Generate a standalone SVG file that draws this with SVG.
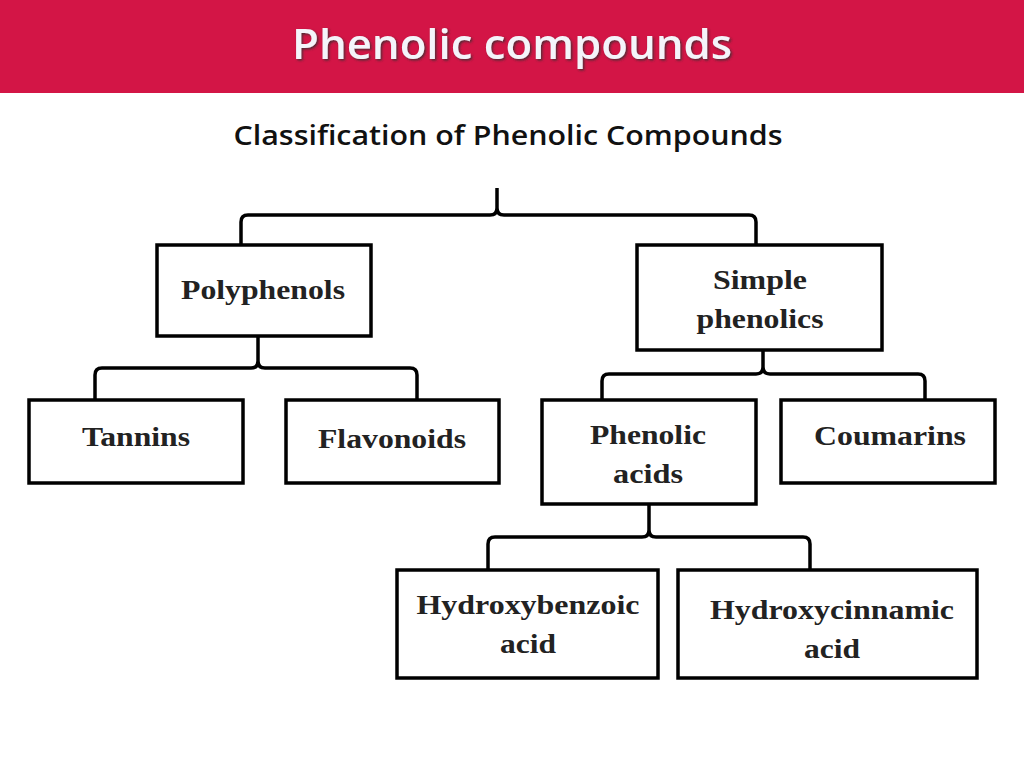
<svg xmlns="http://www.w3.org/2000/svg" width="1024" height="768" viewBox="0 0 1024 768">
<defs>
<style>
.box{fill:#fff;stroke:#000;stroke-width:3.5}
.t{font-family:"Liberation Serif",serif;font-weight:bold;font-size:28px;fill:#222;text-anchor:middle}
.c{fill:none;stroke:#000;stroke-width:3.5;stroke-linejoin:round}
</style>
<filter id="sh"><feDropShadow dx="1.5" dy="1.5" stdDeviation="1" flood-color="#333" flood-opacity="0.8"/></filter>
</defs>
<rect width="1024" height="768" fill="#fff"/>
<rect x="0" y="0" width="1024" height="93" fill="#d31546"/>
<text x="512" y="59" font-family="'Open Sans',sans-serif" font-size="42" font-weight="600" fill="#f4f4fa" text-anchor="middle" filter="url(#sh)" textLength="440" lengthAdjust="spacingAndGlyphs">Phenolic compounds</text>
<text x="508" y="145" font-family="'Open Sans',sans-serif" font-size="27" font-weight="600" fill="#111" text-anchor="middle" textLength="549" lengthAdjust="spacingAndGlyphs">Classification of Phenolic Compounds</text>
<g id="connectors">
<path class="c" d="M497,188 V208 Q497,215 490,215 H248 Q241,215 241,222 V245 M497,208 Q497,215 504,215 H749 Q756,215 756,222 V245"/>
<path class="c" d="M258,336 V361 Q258,368 251,368 H102 Q95,368 95,375 V400 M258,361 Q258,368 265,368 H410 Q417,368 417,375 V400"/>
<path class="c" d="M763,350 V367 Q763,374 756,374 H609 Q602,374 602,381 V400 M763,367 Q763,374 770,374 H918 Q925,374 925,381 V400"/>
<path class="c" d="M649,504 V530 Q649,537 642,537 H495 Q488,537 488,544 V570 M649,530 Q649,537 656,537 H803 Q810,537 810,544 V570"/>
</g>
<g id="polyphenols"><rect class="box" x="157" y="245" width="214" height="91"/><text class="t" x="263" y="299" textLength="164" lengthAdjust="spacingAndGlyphs">Polyphenols</text></g>
<g id="simple"><rect class="box" x="637" y="245" width="245" height="105"/><text class="t" x="760" y="289" textLength="94" lengthAdjust="spacingAndGlyphs">Simple</text><text class="t" x="760" y="328" textLength="127" lengthAdjust="spacingAndGlyphs">phenolics</text></g>
<g id="tannins"><rect class="box" x="29" y="400" width="214" height="83"/><text class="t" x="136" y="446" textLength="108" lengthAdjust="spacingAndGlyphs">Tannins</text></g>
<g id="flavonoids"><rect class="box" x="286" y="400" width="213" height="83"/><text class="t" x="392" y="448" textLength="148" lengthAdjust="spacingAndGlyphs">Flavonoids</text></g>
<g id="phenolicacids"><rect class="box" x="542" y="400" width="214" height="104"/><text class="t" x="648" y="444" textLength="116" lengthAdjust="spacingAndGlyphs">Phenolic</text><text class="t" x="648" y="483" textLength="70" lengthAdjust="spacingAndGlyphs">acids</text></g>
<g id="coumarins"><rect class="box" x="781" y="400" width="214" height="83"/><text class="t" x="890" y="445" textLength="152" lengthAdjust="spacingAndGlyphs">Coumarins</text></g>
<g id="hydroxybenzoic"><rect class="box" x="397" y="570" width="261" height="108"/><text class="t" x="528" y="614" textLength="223" lengthAdjust="spacingAndGlyphs">Hydroxybenzoic</text><text class="t" x="528" y="653" textLength="56" lengthAdjust="spacingAndGlyphs">acid</text></g>
<g id="hydroxycinnamic"><rect class="box" x="678" y="570" width="299" height="108"/><text class="t" x="832" y="619" textLength="244" lengthAdjust="spacingAndGlyphs">Hydroxycinnamic</text><text class="t" x="832" y="658" textLength="56" lengthAdjust="spacingAndGlyphs">acid</text></g>
</svg>
